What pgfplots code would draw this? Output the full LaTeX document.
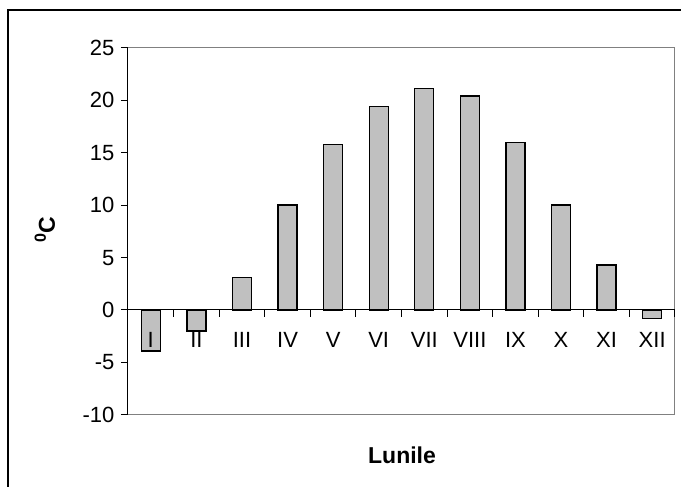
\documentclass[border=0pt]{standalone}
\usepackage{pgfplots}
\pgfplotsset{compat=1.18}
\usepackage{fontspec}
\setmainfont{Liberation Sans}
\definecolor{barfill}{RGB}{192,192,192}
\pgfplotsset{
  commonax/.style={
    width=547pt, height=367pt, scale only axis,
    xmin=0.5, xmax=12.5, ymin=-10, ymax=25,
    clip=false,
  },
}
\begin{document}
\begin{tikzpicture}
% background axis: grid and bars
\begin{axis}[
  commonax,
  ybar, bar width=19pt,
  axis lines=none,
  ytick={-10,-5,...,25}, xtick=\empty,
  ymajorgrids, grid style={black, line width=0.9pt},
]
\addplot[fill=barfill, draw=black, line width=1.3pt]
  coordinates {(1,-3.9) (2,-2.0) (3,3.1) (4,10.0) (5,15.8) (6,19.4) (7,21.1) (8,20.4) (9,16.0) (10,10.0) (11,4.3) (12,-0.8)};
\draw[gray, line width=1pt] (rel axis cs:0,1) -- (rel axis cs:1,1) -- (rel axis cs:1,0) -- (rel axis cs:0,0);
\draw[black, line width=1.6pt] (rel axis cs:-0.2194,-0.3) -- (rel axis cs:-0.2194,1.1033) -- (rel axis cs:1.1,1.1033);
\coordinate (bbA) at (rel axis cs:-0.2340,-0.1957);
\coordinate (bbB) at (rel axis cs:1.0110,1.1304);
\end{axis}
% foreground axis: axis lines, ticks and labels
\begin{axis}[
  commonax,
  axis x line=middle, axis y line=left,
  hide obscured x ticks=false, hide obscured y ticks=false,
  axis line style={-, black, line width=1pt},
  ytick={-10,-5,...,25},
  tick align=outside, major tick length=7pt,
  tick style={black, line width=1pt},
  yticklabel style={xshift=-3pt},
  xtick={0.5,1.5,...,12.5},
  xticklabels={},
  extra x ticks={1,...,12},
  extra x tick labels={I,II,III,IV,V,VI,VII,VIII,IX,X,XI,XII},
  extra x tick style={major tick length=0pt, xticklabel style={yshift=-19pt}},
  every tick label/.append style={font=\fontsize{22}{25}\selectfont},
  /pgf/number format/assume math mode=true,
  xlabel={\textbf{Lunile}},
  ylabel={\textbf{\textsuperscript{0}C}},
  every axis x label/.style={at={(rel axis cs:0.501,-0.111)}, anchor=center, font=\fontsize{23}{26}\selectfont},
  every axis y label/.style={at={(rel axis cs:-0.152,0.505)}, anchor=center, rotate=90, font=\fontsize{23}{26}\selectfont},
]
\addplot[draw=none, forget plot] coordinates {(1,0) (12,0)};
\end{axis}
\pgfresetboundingbox
\useasboundingbox (bbA) rectangle (bbB);
\end{tikzpicture}
\end{document}
